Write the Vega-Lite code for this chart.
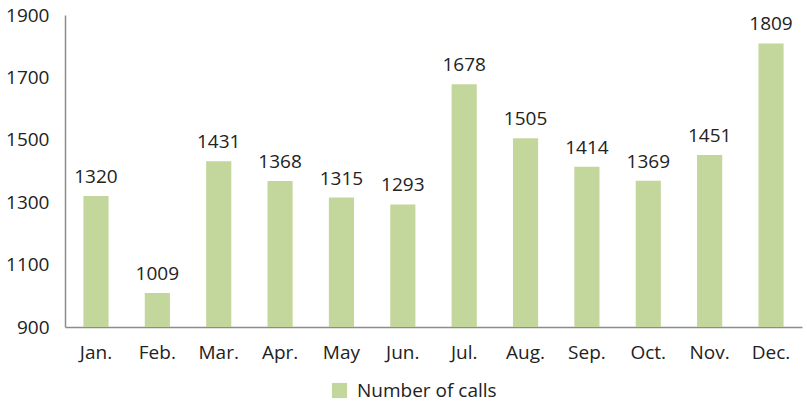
{
  "$schema": "https://vega.github.io/schema/vega-lite/v6.json",
  "width": 737,
  "height": 312,
  "autosize": {"type": "none"},
  "padding": {"left": 65, "top": 15, "right": 5, "bottom": 82},
  "background": "white",
  "config": {
    "view": {"stroke": null},
    "font": "Open Sans",
    "axis": {"labelFont": "Open Sans", "labelFontSize": 19, "labelColor": "#222222", "domainColor": "#8c8c8c", "domainWidth": 1.5, "ticks": false, "grid": false, "title": null}
  },
  "data": {
    "values": [
      {"month": "Jan.", "calls": 1320, "series": "Number of calls"},
      {"month": "Feb.", "calls": 1009, "series": "Number of calls"},
      {"month": "Mar.", "calls": 1431, "series": "Number of calls"},
      {"month": "Apr.", "calls": 1368, "series": "Number of calls"},
      {"month": "May", "calls": 1315, "series": "Number of calls"},
      {"month": "Jun.", "calls": 1293, "series": "Number of calls"},
      {"month": "Jul.", "calls": 1678, "series": "Number of calls"},
      {"month": "Aug.", "calls": 1505, "series": "Number of calls"},
      {"month": "Sep.", "calls": 1414, "series": "Number of calls"},
      {"month": "Oct.", "calls": 1369, "series": "Number of calls"},
      {"month": "Nov.", "calls": 1451, "series": "Number of calls"},
      {"month": "Dec.", "calls": 1809, "series": "Number of calls"}
    ]
  },
  "encoding": {
    "x": {"field": "month", "type": "ordinal", "sort": null, "scale": {"paddingInner": 0.59, "paddingOuter": 0.3}, "axis": {"labelAngle": 0, "labelPadding": 16}},
    "y": {"field": "calls", "type": "quantitative", "scale": {"domain": [900, 1900], "nice": false, "zero": false}, "axis": {"values": [900, 1100, 1300, 1500, 1700, 1900], "format": "d", "labelPadding": 16, "domain": true}}
  },
  "layer": [
    {
      "mark": {"type": "bar", "color": "#c3d69b"},
      "encoding": {
        "y2": {"datum": 900},
        "color": {"field": "series", "type": "nominal", "scale": {"range": ["#c3d69b"]}, "legend": {"orient": "none", "legendX": 265, "legendY": 366, "title": null, "symbolType": "square", "symbolSize": 230, "labelFontSize": 19, "labelFont": "Open Sans", "labelColor": "#222222", "symbolStrokeWidth": 0, "labelOffset": 8}}
      }
    },
    {
      "mark": {"type": "text", "baseline": "bottom", "dy": -9, "fontSize": 19, "font": "Open Sans", "color": "#222222"},
      "encoding": {"text": {"field": "calls", "type": "quantitative"}}
    }
  ]
}
